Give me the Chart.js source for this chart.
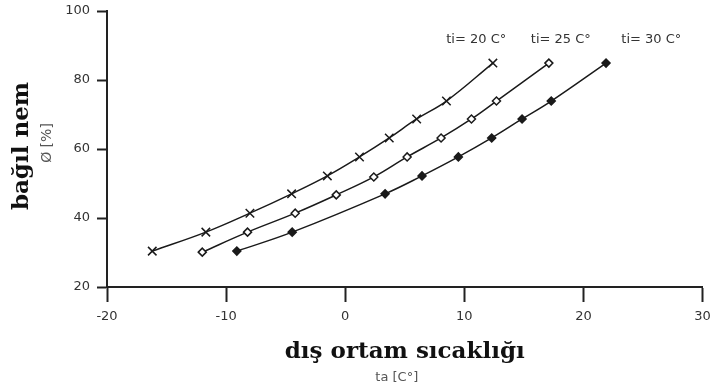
<!DOCTYPE html>
<html>
<head>
<meta charset="utf-8">
<script src="https://cdn.jsdelivr.net/npm/chart.js@4.4.0/dist/chart.umd.min.js"></script>
<style>
  html, body { margin: 0; padding: 0; background: #fff; }
  #wrap { width: 710px; height: 391px; }
</style>
</head>
<body>
<div id="wrap"><canvas id="nemChart" width="710" height="391"></canvas></div>
<script>
// dış ortam sıcaklığı (ta) ve bağıl nem değerleri, her iç sıcaklık için
var ta20 = [-16.2, -11.7, -8.0, -4.5, -1.5, 1.2, 3.7, 6.0, 8.5, 12.4];
var nem20 = [30.4, 35.9, 41.4, 47.0, 52.2, 57.7, 63.2, 68.7, 73.9, 84.9];

var ta25 = [-12.0, -8.2, -4.2, -0.75, 2.4, 5.2, 8.05, 10.6, 12.7, 17.1];
var nem25 = [30.1, 35.9, 41.4, 46.7, 51.9, 57.7, 63.2, 68.7, 73.9, 84.9];

var ta30 = [-9.1, -4.45, 3.35, 6.45, 9.5, 12.3, 14.85, 17.3, 21.9];
var nem30 = [30.4, 35.9, 47.0, 52.2, 57.7, 63.2, 68.7, 73.9, 84.9];

var seriesNames = ["ti= 20 C°", "ti= 25 C°", "ti= 30 C°"];
var seriesNameX = [11.0, 18.1, 25.7];
var seriesNameY = 91.6;

var xMin = -20, xMax = 30, xStep = 10;
var yMin = 20, yMax = 100, yStep = 20;

function toPoints(xs, ys) {
    var pts = [];
    for (var i = 0; i < xs.length; i++) {
        pts.push({ x: xs[i], y: ys[i] });
    }
    return pts;
}

function makeDataset(xs, ys, style, radius, fill) {
    return {
        data: toPoints(xs, ys),
        borderColor: "#1a1a1a",
        borderWidth: 1.5,
        pointStyle: style,
        pointRadius: radius,
        pointBorderWidth: 1.5,
        pointBorderColor: "#1a1a1a",
        pointBackgroundColor: fill,
        tension: 0.4,
        fill: false
    };
}

const textPlugin = {
    id: "textPlugin",
    afterDraw(chart) {
        const ctx = chart.ctx;
        const area = chart.chartArea;
        const xs = chart.scales.x;
        const ys = chart.scales.y;
        const cx = (area.left + area.right) / 2;

        ctx.save();
        ctx.textAlign = "center";
        ctx.textBaseline = "middle";

        // seri etiketleri
        ctx.fillStyle = "#333";
        ctx.font = "13px 'DejaVu Sans'";
        for (var i = 0; i < seriesNames.length; i++) {
            ctx.fillText(seriesNames[i], xs.getPixelForValue(seriesNameX[i]), ys.getPixelForValue(seriesNameY));
        }

        // x ekseni başlığı
        ctx.fillStyle = "#111";
        ctx.font = "bold 23px 'DejaVu Serif'";
        ctx.fillText("dış ortam sıcaklığı", cx, 352);
        ctx.fillStyle = "#555";
        ctx.font = "13px 'DejaVu Sans'";
        ctx.fillText("ta [C°]", cx - 8, 378);

        // y ekseni başlığı
        ctx.translate(22, 146);
        ctx.rotate(-Math.PI / 2);
        ctx.fillStyle = "#111";
        ctx.font = "bold 23px 'DejaVu Serif'";
        ctx.fillText("bağıl nem", 0, 0);
        ctx.fillStyle = "#555";
        ctx.font = "14px 'DejaVu Sans'";
        ctx.fillText("Ø [%]", 3, 25);
        ctx.restore();
    }
};

const ctx = document.getElementById("nemChart").getContext("2d");

var config = {
    type: "line",
    data: {
        datasets: [
            makeDataset(ta20, nem20, "crossRot", 6, "#fff"),
            makeDataset(ta25, nem25, "rectRot", 4, "#fff"),
            makeDataset(ta30, nem30, "rectRot", 4, "#1a1a1a")
        ]
    },
    options: {
        responsive: false,
        animation: false,
        layout: { padding: { top: 11, right: 7, left: 0, bottom: 0 } },
        plugins: {
            legend: { display: false },
            tooltip: { enabled: false }
        },
        scales: {
            x: {
                type: "linear",
                min: xMin,
                max: xMax,
                afterFit: function (scale) {
                    scale.height = 104;
                    scale.paddingLeft = 0;
                    scale.paddingRight = 0;
                },
                ticks: {
                    stepSize: xStep,
                    padding: 7,
                    color: "#333",
                    font: { family: "'DejaVu Sans'", size: 13 }
                },
                grid: { drawOnChartArea: false, drawTicks: true, tickLength: 15, tickWidth: 2, color: "#222" },
                border: { display: true, color: "#222", width: 2 }
            },
            y: {
                min: yMin,
                max: yMax,
                afterFit: function (scale) {
                    scale.width = 107;
                    scale.paddingTop = 0;
                    scale.paddingBottom = 0;
                },
                ticks: {
                    stepSize: yStep,
                    padding: 7,
                    color: "#333",
                    font: { family: "'DejaVu Sans'", size: 13 }
                },
                grid: { drawOnChartArea: false, drawTicks: true, tickLength: 10, tickWidth: 2, color: "#222" },
                border: { display: true, color: "#222", width: 2 }
            }
        }
    },
    plugins: [textPlugin]
};

new Chart(ctx, config);
</script>
</body>
</html>
